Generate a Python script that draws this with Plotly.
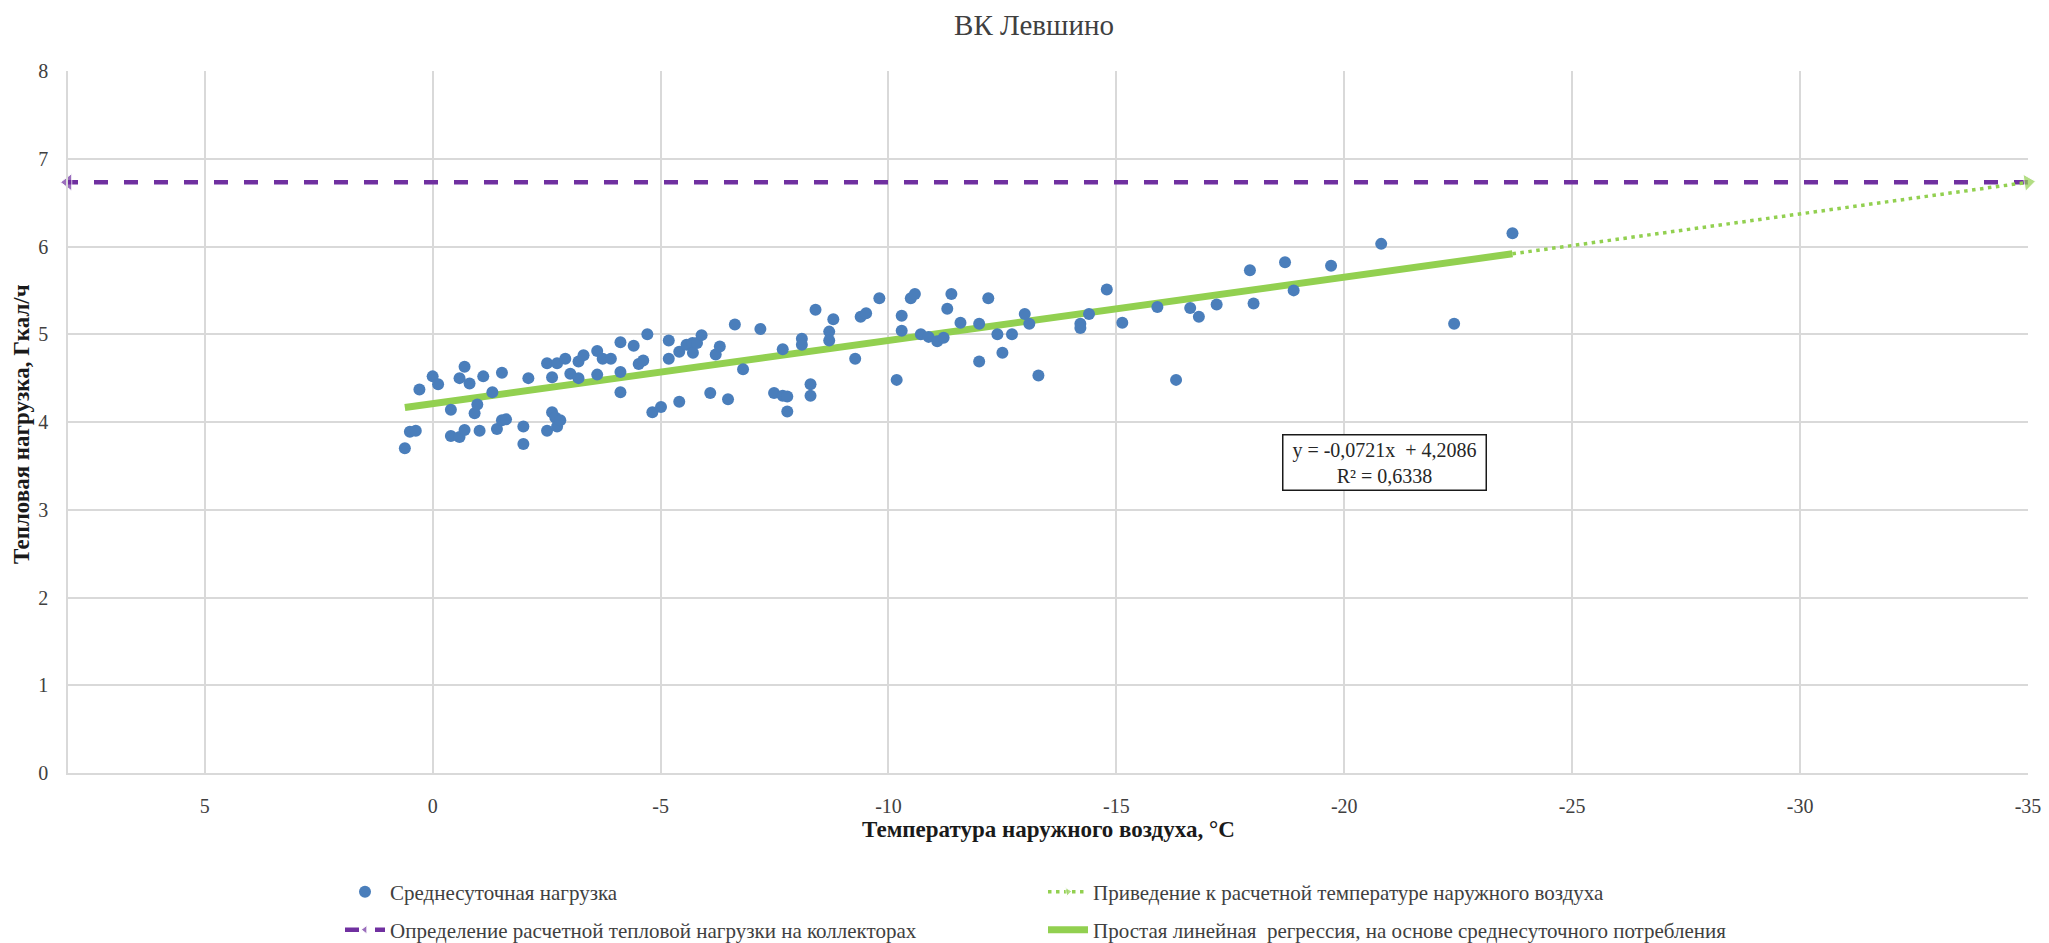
import plotly.graph_objects as go

# ---------------- data ----------------
temps = [0.61, 0.50, 0.37, 0.29, 0.00, -0.12, -0.40, -0.40, -0.59, -0.70, -0.59, -0.70, -0.81, -0.92,
         -0.98, -1.03, -1.11, -1.31, -1.41, -1.52, -1.61, -1.52, -1.99, -1.99, -2.10, -2.51, -2.51,
         -2.62, -2.62, -2.69, -2.73, -2.80, -2.73, -2.91, -3.02, -3.20, -3.20, -3.31, -3.61, -3.61,
         -3.73, -3.91, -4.12, -4.12, -4.12, -4.41, -4.52, -4.62, -4.71, -4.82, -5.01, -5.18, -5.18,
         -5.41, -5.41, -5.57, -5.70, -5.71, -5.80, -5.90, -6.09, -6.21, -6.30, -6.48, -6.63, -6.81,
         -7.19, -7.49, -7.68, -7.78, -7.78, -7.68, -8.10, -8.10, -8.29, -8.29, -8.40, -8.70, -8.70,
         -8.79, -9.27, -9.39, -9.51, -9.80, -10.18, -10.29, -10.29, -10.49, -10.58, -10.71,
         -10.88, -11.07, -11.21, -11.29, -11.38, -11.58, -11.99, -11.99, -12.19, -12.39, -12.50,
         -12.71, -12.99, -13.09, -13.29, -14.21, -14.21, -14.40, -14.79, -15.13, -15.90,
         -16.31, -16.62, -16.81, -17.20, -17.93, -18.01, -18.70, -18.89, -19.71, -20.81, -22.41, -23.69]
loads = [3.70, 3.89, 3.90, 4.37, 4.52, 4.43, 4.14, 3.84, 3.83, 3.91, 4.50, 4.63, 4.44, 4.10,
         4.20, 3.90, 4.52, 4.34, 3.92, 4.02, 4.03, 4.56, 3.95, 3.75, 4.50, 3.90, 4.67,
         4.51, 4.11, 4.05, 3.95, 4.02, 4.67, 4.72, 4.55, 4.50, 4.69, 4.76, 4.81, 4.54,
         4.72, 4.72, 4.91, 4.57, 4.34, 4.87, 4.66, 4.70, 5.00, 4.11, 4.17, 4.93, 4.72,
         4.23, 4.80, 4.88, 4.90, 4.79, 4.90, 4.99, 4.33, 4.77, 4.86, 4.26, 5.11, 4.60,
         5.06, 4.33, 4.30, 4.29, 4.12, 4.83, 4.95, 4.88, 4.43, 4.30, 5.28, 5.03, 4.93,
         5.17, 4.72, 5.20, 5.24, 5.41, 4.48, 5.21, 5.04, 5.41, 5.46, 5.00,
         4.97, 4.92, 4.96, 5.29, 5.46, 5.13, 4.69, 5.12, 5.41, 5.00, 4.79,
         5.00, 5.23, 5.12, 4.53, 5.12, 5.07, 5.23, 5.51, 5.13, 5.31,
         4.48, 5.30, 5.20, 5.34, 5.73, 5.35, 5.82, 5.50, 5.78, 6.03, 5.12, 6.15]

SLOPE = -0.0721
INTERCEPT = 4.2086
R2 = 0.6338
DESIGN_T = -35          # расчетная температура наружного воздуха
X_RANGE = [8, -35]
Y_RANGE = [0, 8]
x_ticks = [5, 0, -5, -10, -15, -20, -25, -30, -35]
y_ticks = [0, 1, 2, 3, 4, 5, 6, 7, 8]

names = ["Среднесуточная нагрузка",
         "Определение расчетной тепловой нагрузки на коллекторах",
         "Приведение к расчетной температуре наружного воздуха",
         "Простая линейная  регрессия, на основе среднесуточного потребления"]

# ---------------- layout geometry ----------------
W, H = 2049, 943
L, R, T, B = 68, 21, 71, 170
PW, PH = W - L - R, H - T - B
FONT = "Liberation Serif"


def px_x(px):
    return (px - L) / PW


def px_y(py):
    return (H - B - py) / PH


def fit(x):
    return SLOPE * x + INTERCEPT


t_max, t_min = max(temps), min(temps)
q_design = fit(DESIGN_T)

fig = go.Figure()

# design load (purple dashed with arrow at left end)
fig.add_trace(go.Scatter(
    x=[DESIGN_T, X_RANGE[0]], y=[q_design, q_design], mode="lines+markers",
    line=dict(color="#7030A0", width=4.5, dash="14px,16px"),
    marker=dict(symbol="triangle-left", size=[0, 15], color="#7030A0"),
    cliponaxis=False, name=names[1], legend="legend2"))

# regression line
fig.add_trace(go.Scatter(
    x=[t_max, t_min], y=[fit(t_max), fit(t_min)], mode="lines",
    line=dict(color="#92D050", width=7), name=names[3], legend="legend4"))

# extrapolation (green dotted with arrow at right end)
fig.add_trace(go.Scatter(
    x=[t_min, DESIGN_T], y=[fit(t_min), q_design], mode="lines+markers",
    line=dict(color="#92D050", width=3.5, dash="3.5px,4.5px"),
    marker=dict(symbol="triangle-right", size=[0, 15], color="#92D050", angle=-8),
    cliponaxis=False, name=names[2], legend="legend3"))

# daily mean points
fig.add_trace(go.Scatter(
    x=temps, y=loads, mode="markers",
    marker=dict(color="#4A7EBB", size=12),
    name=names[0], legend="legend"))

axis_font = dict(family=FONT, size=20, color="#404040")

fig.update_layout(
    width=W, height=H,
    margin=dict(l=L, r=R, t=T, b=B, autoexpand=False),
    paper_bgcolor="white", plot_bgcolor="white",
    font=dict(family=FONT, size=20, color="#404040"),
    title=dict(text="ВК Левшино", x=1034 / W, xanchor="center", xref="container",
               y=1 - 25 / H, yanchor="middle", yref="container",
               font=dict(family=FONT, size=29, color="#404040")),
    xaxis=dict(range=X_RANGE, tickvals=x_ticks, ticktext=[str(v) for v in x_ticks],
               showgrid=True, gridcolor="#D9D9D9", gridwidth=1.5, zeroline=False,
               showline=True, linecolor="#D9D9D9", linewidth=1.5,
               ticks="", ticklabelstandoff=14, tickfont=axis_font),
    yaxis=dict(range=Y_RANGE, tickvals=y_ticks, showgrid=True, gridcolor="#D9D9D9",
               gridwidth=1.5, zeroline=False, showline=True, linecolor="#D9D9D9",
               linewidth=1.5, ticks="", ticklabelstandoff=14, tickfont=axis_font),
    showlegend=True,
)

leg_common = dict(font=dict(family=FONT, size=21, color="#404040"), bgcolor="rgba(0,0,0,0)",
                  xanchor="left", yanchor="middle", xref="paper", yref="paper", itemwidth=40)
fig.update_layout(
    legend=dict(x=px_x(340), y=px_y(892), **leg_common),
    legend2=dict(x=px_x(340), y=px_y(930), **leg_common),
    legend3=dict(x=px_x(1043), y=px_y(892), **leg_common),
    legend4=dict(x=px_x(1043), y=px_y(930), **leg_common),
)

# x axis title
fig.add_annotation(text="Температура наружного воздуха, °C", xref="paper", yref="paper",
                   x=0.5, y=px_y(829), xanchor="center", yanchor="middle", showarrow=False,
                   font=dict(family=FONT, size=23, color="#1a1a1a", weight="bold"))

# y axis title
fig.add_annotation(text="Тепловая нагрузка, Гкал/ч", textangle=-90, xref="paper", yref="paper",
                   x=px_x(21), y=px_y(424), xanchor="center", yanchor="middle", showarrow=False,
                   font=dict(family=FONT, size=23, color="#1a1a1a", weight="bold"))

# regression equation box
fig.add_annotation(text=f"y = {SLOPE:.4f}x  + {INTERCEPT:.4f}".replace(".", ",")
                   + "<br>" + f"R² = {R2:.4f}".replace(".", ","),
                   xref="x", yref="y", x=-20.88, y=3.54, showarrow=False,
                   font=dict(family=FONT, size=20, color="#262626"),
                   bordercolor="#1a1a1a", borderwidth=1.5, borderpad=3, bgcolor="white",
                   width=196, align="center")

fig.write_html("out.html")
